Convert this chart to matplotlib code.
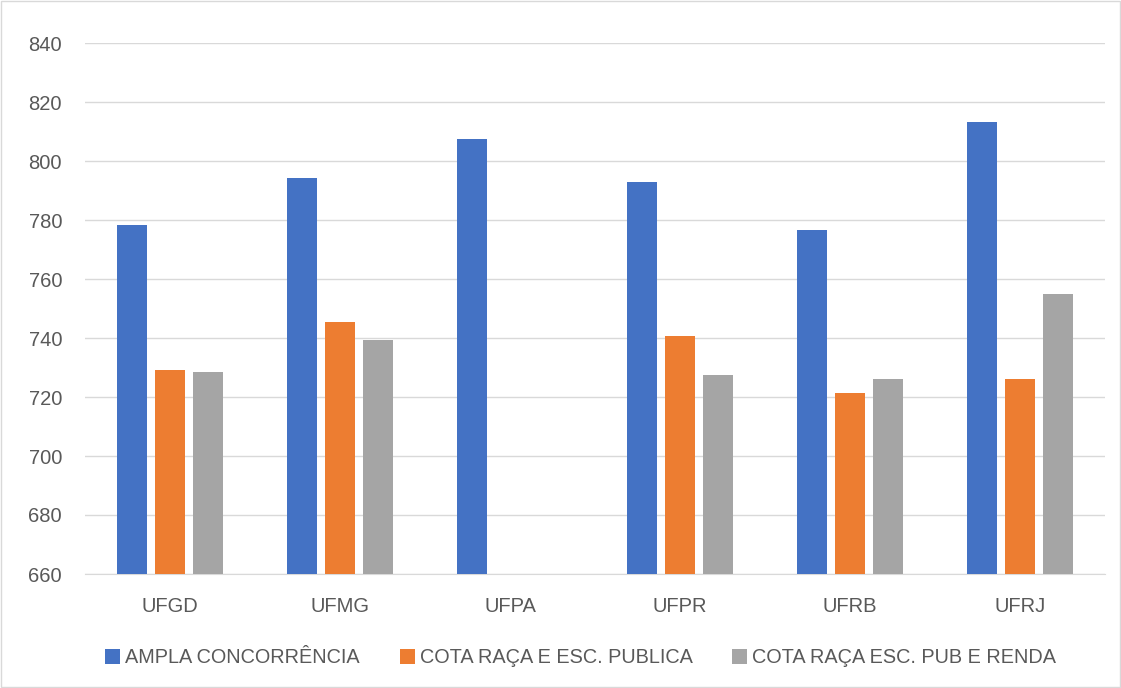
import matplotlib.pyplot as plt
import numpy as np

categories = ["UFGD", "UFMG", "UFPA", "UFPR", "UFRB", "UFRJ"]
ampla = [778.4, 794.3, 807.6, 793.0, 776.6, 813.3]
cota_publica = [729.2, 745.5, np.nan, 740.8, 721.4, 726.1]
cota_renda = [728.6, 739.3, np.nan, 727.6, 726.1, 755.0]
series_names = ["AMPLA CONCORRÊNCIA", "COTA RAÇA E ESC. PUBLICA",
                "COTA RAÇA ESC. PUB E RENDA"]
colors = ["#4472C4", "#ED7D31", "#A5A5A5"]
yticks = np.arange(660, 841, 20)

plt.rcParams['font.family'] = ['Liberation Sans', 'DejaVu Sans']
text_color = "#595959"

fig = plt.figure(figsize=(11.21, 6.88), dpi=100)
ax = fig.add_axes([85 / 1121, 1 - 574 / 688, 1020 / 1121, 531 / 688])

x = np.arange(len(categories))
width = 0.176
offset = 0.2235
base = 660
for i, (vals, name, c) in enumerate(zip([ampla, cota_publica, cota_renda],
                                        series_names, colors)):
    v = np.array(vals, dtype=float)
    ax.bar(x + (i - 1) * offset, v - base, width, bottom=base,
           color=c, label=name, zorder=3)

ax.set_xlim(-0.5, len(categories) - 0.5)
ax.set_ylim(660, 840)
ax.set_yticks(yticks)
ax.set_xticks(x)
ax.set_xticklabels(categories)
ax.yaxis.grid(True, color="#D9D9D9", linewidth=1, zorder=0)
ax.tick_params(axis="both", length=0, labelsize=14.5, colors=text_color)
ax.tick_params(axis="x", pad=16.5)
ax.tick_params(axis="y", pad=16.5)
for s in ["top", "right", "left"]:
    ax.spines[s].set_visible(False)
ax.spines["bottom"].set_color("#D9D9D9")

ax.legend(loc="center", bbox_to_anchor=(0.486, -0.158), ncol=3, frameon=False,
          fontsize=14.3, labelcolor=text_color, handlelength=0.75,
          handleheight=0.75, handletextpad=0.25, columnspacing=2.0)

border = plt.Rectangle((0.001, 0.001), 0.998, 0.998, transform=fig.transFigure,
                       fill=False, edgecolor="#D9D9D9", linewidth=1)
fig.patches.append(border)

fig.savefig("out.png", dpi=100)
